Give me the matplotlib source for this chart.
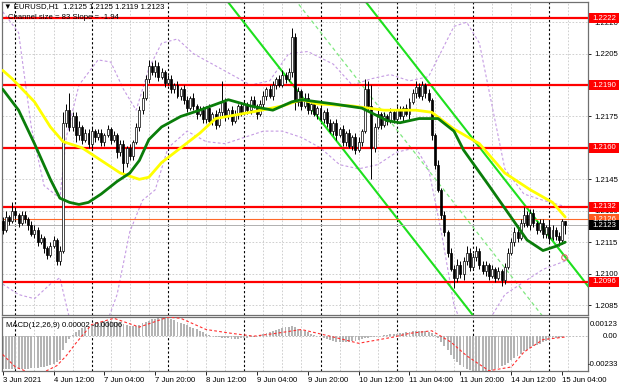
import matplotlib
matplotlib.use('Agg')
import matplotlib.pyplot as plt
from matplotlib.patches import Rectangle

plt.rcParams['font.family'] = ['Liberation Sans', 'DejaVu Sans']

# EURUSD H1 closes, bar 0 = 3 Jun 20:00 ... bar 177 = 15 Jun 05:00
closes = [1.2121, 1.2127, 1.2125, 1.2130, 1.2128, 1.2124, 1.2128, 1.2126, 1.2123, 1.2119,
          1.2121, 1.2115, 1.2117, 1.2112, 1.2109, 1.2113, 1.2116, 1.2106, 1.2111, 1.2172,
          1.2178, 1.2170, 1.2175, 1.2166, 1.2170, 1.2164, 1.2167, 1.2162, 1.2168, 1.2165,
          1.2167, 1.2163, 1.2166, 1.2169, 1.2164, 1.2166, 1.2158, 1.2162, 1.2153, 1.2160,
          1.2156, 1.2163, 1.2170, 1.2178, 1.2184, 1.2193, 1.2199, 1.2196, 1.2199, 1.2194,
          1.2196, 1.2191, 1.2193, 1.2188, 1.2190, 1.2185, 1.2188, 1.2183, 1.2179, 1.2184,
          1.2180, 1.2176, 1.2178, 1.2174, 1.2179, 1.2173, 1.2176, 1.2171, 1.2177, 1.2182,
          1.2175, 1.2178, 1.2173, 1.2176, 1.2180, 1.2177, 1.2181, 1.2178, 1.2183, 1.2180,
          1.2176, 1.2181, 1.2185, 1.2188, 1.2185, 1.2190, 1.2193, 1.2190, 1.2195, 1.2193,
          1.2196, 1.2213, 1.2182, 1.2187, 1.2180, 1.2184, 1.2178, 1.2181, 1.2176, 1.2179,
          1.2174, 1.2177, 1.2172, 1.2168, 1.2172, 1.2166, 1.2169, 1.2163, 1.2167, 1.2161,
          1.2165, 1.2159, 1.2163, 1.2168, 1.2188, 1.2180, 1.2160, 1.2170, 1.2176, 1.2171,
          1.2175, 1.2173, 1.2177, 1.2174, 1.2178, 1.2175, 1.2179, 1.2176, 1.2182, 1.2186,
          1.2189, 1.2185, 1.2190, 1.2186, 1.2183, 1.2166, 1.2152, 1.2140, 1.2128, 1.2120,
          1.2110, 1.2102, 1.2098, 1.2104, 1.2100, 1.2106, 1.2110, 1.2103, 1.2108, 1.2111,
          1.2104, 1.2101, 1.2104, 1.2099, 1.2102, 1.2098, 1.2101, 1.2097, 1.2103, 1.2110,
          1.2115, 1.2120, 1.2117, 1.2124, 1.2128, 1.2123, 1.2129, 1.2124, 1.2121, 1.2124,
          1.2119, 1.2122, 1.2117, 1.2121, 1.2118, 1.2116, 1.2125, 1.2123]
first_open = 1.2125
# wick lengths in pips above / below the body
wick_up = [2, 3, 1, 4, 2, 1, 2, 2, 1, 2, 2, 1, 2, 1, 1, 2, 2, 1, 2, 5,
           3, 8, 2, 2, 3, 1, 2, 2, 2, 1, 2, 2, 1, 2, 1, 2, 1, 2, 2, 1,
           2, 1, 2, 2, 3, 2, 3, 2, 3, 2, 2, 1, 2, 2, 1, 2, 1, 2, 2, 1,
           2, 1, 2, 2, 1, 2, 1, 2, 2, 10, 2, 1, 2, 2, 1, 2, 2, 1, 2, 2,
           1, 2, 2, 1, 2, 2, 1, 2, 2, 1, 2, 4, 2, 2, 1, 2, 2, 1, 2, 1,
           2, 1, 2, 2, 1, 2, 1, 2, 1, 2, 1, 2, 2, 1, 5, 4, 10, 2, 2, 1,
           2, 1, 2, 1, 2, 2, 1, 2, 2, 2, 3, 2, 2, 1, 2, 1, 1, 2, 1, 2,
           1, 2, 2, 3, 2, 2, 3, 2, 2, 2, 1, 2, 2, 1, 2, 1, 2, 1, 2, 2,
           2, 2, 3, 2, 4, 2, 2, 2, 1, 2, 2, 1, 3, 2, 1, 2, 1, 0]
wick_dn = [2, 1, 2, 1, 2, 2, 1, 2, 2, 1, 2, 2, 1, 2, 2, 1, 1, 2, 2, 1,
           2, 2, 2, 3, 2, 2, 1, 2, 2, 2, 1, 2, 2, 1, 2, 1, 3, 2, 6, 2,
           2, 2, 1, 2, 2, 1, 2, 1, 2, 2, 1, 2, 1, 2, 2, 1, 2, 2, 2, 1,
           2, 2, 1, 2, 2, 1, 2, 2, 1, 2, 2, 1, 2, 1, 2, 2, 1, 2, 2, 1,
           2, 1, 2, 2, 1, 2, 2, 1, 1, 2, 1, 2, 4, 2, 2, 1, 2, 2, 1, 2,
           1, 2, 2, 1, 2, 2, 1, 2, 2, 1, 2, 2, 1, 2, 1, 2, 15, 2, 1, 2,
           1, 2, 1, 2, 1, 1, 2, 1, 2, 1, 2, 1, 2, 2, 1, 2, 2, 1, 2, 2,
           2, 1, 5, 2, 2, 3, 2, 2, 1, 2, 2, 1, 2, 2, 1, 2, 1, 3, 2, 1,
           1, 2, 2, 1, 2, 1, 2, 2, 2, 1, 2, 2, 2, 1, 2, 3, 2, 4]

# moving averages (bar, price)
yellow_bars = [0, 3, 10, 15, 19, 25, 31, 37, 43, 46, 50, 56, 62, 67, 78, 88, 94, 99,
               110, 120, 130, 135, 142, 150, 158, 166, 173, 177]
yellow_vals = [1.2197, 1.2193, 1.2182, 1.2170, 1.2163, 1.2160, 1.2154, 1.2148, 1.2145,
               1.2146, 1.2153, 1.2160, 1.2167, 1.2174, 1.2177, 1.2180, 1.2183, 1.2181,
               1.2180, 1.2178, 1.2178, 1.2177, 1.2169, 1.2162, 1.2148, 1.2140, 1.2134, 1.2127]
green_bars = [0, 5, 10, 15, 18, 21, 24, 27, 31, 36, 40, 43, 46, 50, 56, 62, 71, 78, 85,
              91, 94, 104, 113, 121, 125, 131, 137, 142, 145, 153, 159, 165, 170, 174, 177]
green_vals = [1.2188, 1.2178, 1.2162, 1.2145, 1.2136, 1.2134, 1.2133, 1.2134, 1.2138,
              1.2144, 1.2148, 1.2154, 1.2164, 1.2170, 1.2175, 1.2178, 1.2183, 1.2180,
              1.2178, 1.2182, 1.2183, 1.2181, 1.2179, 1.2173, 1.2172, 1.2174, 1.2174,
              1.2168, 1.2159, 1.2142, 1.2129, 1.2116, 1.2111, 1.2113, 1.2115]
# bollinger bands (bar, price)
bb_up_bars = [0, 5, 9, 13, 18, 20, 24, 30, 34, 38, 42, 46, 50, 55, 60, 66, 72, 78, 84, 90,
              96, 104, 110, 116, 122, 128, 134, 138, 142, 146, 150, 154, 158, 164, 170, 177]
bb_up_vals = [1.2225, 1.2215, 1.2170, 1.2142, 1.2136, 1.2165, 1.2190, 1.2202, 1.2201,
              1.2188, 1.2178, 1.2198, 1.2210, 1.2212, 1.2205, 1.2200, 1.2195, 1.2190,
              1.2192, 1.2205, 1.2206, 1.2200, 1.2190, 1.2193, 1.2195, 1.2192, 1.2194,
              1.2206, 1.2218, 1.2220, 1.2210, 1.2180, 1.2150, 1.2138, 1.2135, 1.2132]
bb_dn_bars = [0, 5, 10, 15, 18, 20, 24, 30, 36, 40, 44, 48, 52, 58, 64, 70, 76, 82, 88,
              94, 100, 106, 112, 118, 124, 130, 134, 138, 142, 146, 150, 154, 158, 164, 170, 177]
bb_dn_vals = [1.2095, 1.2090, 1.2088, 1.2095, 1.2098, 1.2085, 1.2060, 1.2065, 1.2090,
              1.2120, 1.2135, 1.2140, 1.2160, 1.2168, 1.2163, 1.2162, 1.2165, 1.2168,
              1.2168, 1.2165, 1.2160, 1.2152, 1.2150, 1.2152, 1.2158, 1.2160, 1.2150,
              1.2120, 1.2085, 1.2070, 1.2068, 1.2080, 1.2090, 1.2096, 1.2102, 1.2106]

# MACD main (histogram), in 1e-5
macd_hist = [-228, -230, -231, -232, -232, -231, -230, -229, -228, -226,
             -224, -222, -219, -216, -210, -203, -195, -185, -170, -95,
             -50, -18, 8, 28, 42, 55, 65, 74, 82, 88,
             95, 100, 104, 106, 106, 103, 98, 92, 85, 79,
             74, 72, 75, 82, 90, 100, 110, 118, 124, 128,
             130, 129, 126, 120, 112, 103, 94, 85, 76, 67,
             58, 48, 38, 28, 18, 9, 2, -4, -8, -12,
             -14, -16, -17, -18, -17, -16, -14, -12, -8, -4,
             0, 5, 12, 20, 28, 36, 44, 52, 60, 66,
             68, 70, 62, 54, 45, 36, 27, 18, 10, 2,
             -6, -14, -22, -30, -36, -40, -42, -43, -42, -40,
             -37, -33, -28, -22, -12, -10, -8, -4, 0, 3,
             6, 9, 12, 15, 18, 21, 24, 27, 30, 33,
             36, 38, 40, 38, 32, 20, 5, -15, -40, -70,
             -100, -130, -160, -185, -205, -220, -232, -240, -245, -248,
             -250, -249, -246, -242, -236, -229, -221, -212, -200, -186,
             -170, -154, -138, -122, -107, -94, -82, -71, -61, -52,
             -44, -37, -30, -23, -16, -10, -4, 2]
signal_bars = [0, 4, 9, 13, 17, 20, 23, 28, 35, 43, 52, 56, 64, 72, 79, 86, 94, 103, 112,
               123, 128, 135, 141, 146, 153, 160, 164, 170, 177]
signal_vals = [-129, -217, -261, -252, -208, -138, -50, 82, 126, 64, 134, 126, 47, 20, 0,
               20, 47, 0, -50, -6, 20, 38, -41, -138, -243, -217, -112, -24, -6]

levels = [1.2222, 1.2190, 1.2160, 1.2132, 1.2096]
orange_level = 1.2126
last_price = 1.2123
price_ticks = [1.2220, 1.2205, 1.2190, 1.2175, 1.2160, 1.2145, 1.2130, 1.2115, 1.2100, 1.2085]
time_labels = ['3 Jun 2021', '4 Jun 12:00', '7 Jun 04:00', '7 Jun 20:00', '8 Jun 12:00',
               '9 Jun 04:00', '9 Jun 20:00', '10 Jun 12:00', '11 Jun 04:00', '11 Jun 20:00',
               '14 Jun 12:00', '15 Jun 04:00']
day_starts = [4, 28, 52, 76, 100, 124, 148, 172]
# regression channel: bar where each line leaves the top edge, slope per bar
chan_top_price = 1.22296
chan_bars = [70.9, 92.6, 114.3]
chan_slope = -0.000194
marker_bar, marker_price = 176.5, 1.2108

W, H = 620, 388
def rect(x0, y0, x1, y1):
    return [x0 / W, 1 - y1 / H, (x1 - x0) / W, (y1 - y0) / H]

fig = plt.figure(figsize=(6.2, 3.88), dpi=100)
ax = fig.add_axes(rect(2, 2, 588, 315))
axm = fig.add_axes(rect(2, 317, 588, 371))
xlo, xhi = -0.22, 184.17
fs = 5.6

for a in (ax, axm):
    a.set_xlim(xlo, xhi)
    for s in a.spines.values():
        s.set_color('#707070')
        s.set_linewidth(0.9)
    for k in range(4, 184, 6):
        if k in day_starts:
            a.axvline(k, color='black', lw=0.8, ls=(0, (2, 2)), zorder=0.5)
        else:
            a.axvline(k, color='#c8c8c8', lw=0.6, ls=(0, (2, 2)), zorder=0.4)

ax.set_ylim(1.208023, 1.222964)
for p in price_ticks:
    ax.axhline(p, color='#c8c8c8', lw=0.6, ls=(0, (2, 2)), zorder=0.4)

# bollinger bands
ax.plot(bb_up_bars, bb_up_vals, color='#c59be3', lw=0.8, ls=(0, (2.5, 2)), zorder=1)
ax.plot(bb_dn_bars, bb_dn_vals, color='#c59be3', lw=0.8, ls=(0, (2.5, 2)), zorder=1)

# channel
for i, b in enumerate(chan_bars):
    xs = [xlo, xhi]
    ys = [chan_top_price + chan_slope * (x - b) for x in xs]
    if i == 1:
        ax.plot(xs, ys, color='#7fe87f', lw=0.9, ls=(0, (3, 2.5)), zorder=1.5)
    else:
        ax.plot(xs, ys, color='#1ee01e', lw=1.5, zorder=1.5)

# horizontal levels
for lv in levels:
    ax.axhline(lv, color='#ff0000', lw=1.6, zorder=1.6)
ax.axhline(orange_level, color='#ff6a2a', lw=0.8, zorder=1.6)
ax.axhline(last_price, color='#b0b0b0', lw=0.7, zorder=1.6)

# candles
o = first_open
for i, c in enumerate(closes):
    hi = max(o, c) + wick_up[i] * 0.0001
    lo = min(o, c) - wick_dn[i] * 0.0001
    ax.vlines(i, lo, hi, color='black', lw=0.7, zorder=3)
    if c >= o:
        ax.bar(i, max(c - o, 0.00002), bottom=o, width=0.62, color='white',
               edgecolor='black', lw=0.5, zorder=3.1)
    else:
        ax.bar(i, o - c, bottom=c, width=0.62, color='black',
               edgecolor='black', lw=0.5, zorder=3.1)
    o = c

ax.plot(yellow_bars, yellow_vals, color='#ffff00', lw=2.0, zorder=4, solid_capstyle='round')
ax.plot(green_bars, green_vals, color='#0a7d0a', lw=2.0, zorder=4.1, solid_capstyle='round')
ax.plot([marker_bar], [marker_price], 'o', ms=4, mfc='none', mec='#e06a6a', mew=0.8, zorder=5)

# price axis; labels that sit fully under a level tag are left out like in the terminal
hidden = {1.2190, 1.2160}
ax.yaxis.tick_right()
ax.set_yticks(price_ticks)
ax.set_yticklabels(['' if p in hidden else '%.4f' % p for p in price_ticks])
ax.tick_params(axis='y', labelsize=fs, length=2.5, pad=2, colors='black', width=0.6)
ax.set_xticks([])

ppx = 1 / 20950.0
def tag(a, price, text, color):
    a.add_patch(Rectangle((1.0017, price - 5 * ppx), 0.0512, 10 * ppx,
                          transform=a.get_yaxis_transform(), facecolor=color,
                          edgecolor='none', clip_on=False, zorder=10))
    a.text(1.0075, price, text, transform=a.get_yaxis_transform(), color='white',
           fontsize=fs, va='center', ha='left', zorder=11, clip_on=False)

for lv in levels:
    tag(ax, lv, '%.4f' % lv, '#ff0000')
tag(ax, orange_level, '%.4f' % orange_level, '#ff5a1e')
tag(ax, last_price, '%.4f' % last_price, '#000000')

ax.text(0.004, 0.984, '\u25bc EURUSD,H1  1.2125 1.2125 1.2119 1.2123', transform=ax.transAxes,
        fontsize=fs, va='center', ha='left', zorder=12)
ax.text(0.011, 0.95, 'Channel size = 83 Slope = -1.94', transform=ax.transAxes,
        fontsize=fs, va='center', ha='left', zorder=12)

# MACD panel
axm.set_ylim(-0.00245, 0.00135)
axm.axhline(0, color='#b0b0b0', lw=0.6, ls=(0, (2, 2)), zorder=0.5)
axm.bar(range(len(macd_hist)), [v * 1e-5 for v in macd_hist], width=0.6,
        color='#b4b4b4', zorder=2)
axm.plot(signal_bars, [v * 1e-5 for v in signal_vals], color='#ff3030', lw=0.8,
         ls=(0, (2.5, 2)), zorder=3)
axm.set_yticks([])
for txt, fy in (('0.00123', 0.86), ('0.00', 0.645), ('-0.00233', 0.12)):
    axm.text(1.0505, fy, txt, transform=axm.transAxes, fontsize=fs, va='center', ha='right',
             clip_on=False)
axm.text(0.006, 0.85, 'MACD(12,26,9) 0.00002 -0.00006', transform=axm.transAxes,
         fontsize=fs, va='center', ha='left', zorder=5)
axm.set_xticks([16 * k for k in range(len(time_labels))])
axm.set_xticklabels(time_labels, ha='left')
axm.tick_params(axis='x', labelsize=fs, length=3, pad=1.5, width=0.6)

fig.savefig('out.png', dpi=100, facecolor='white')
